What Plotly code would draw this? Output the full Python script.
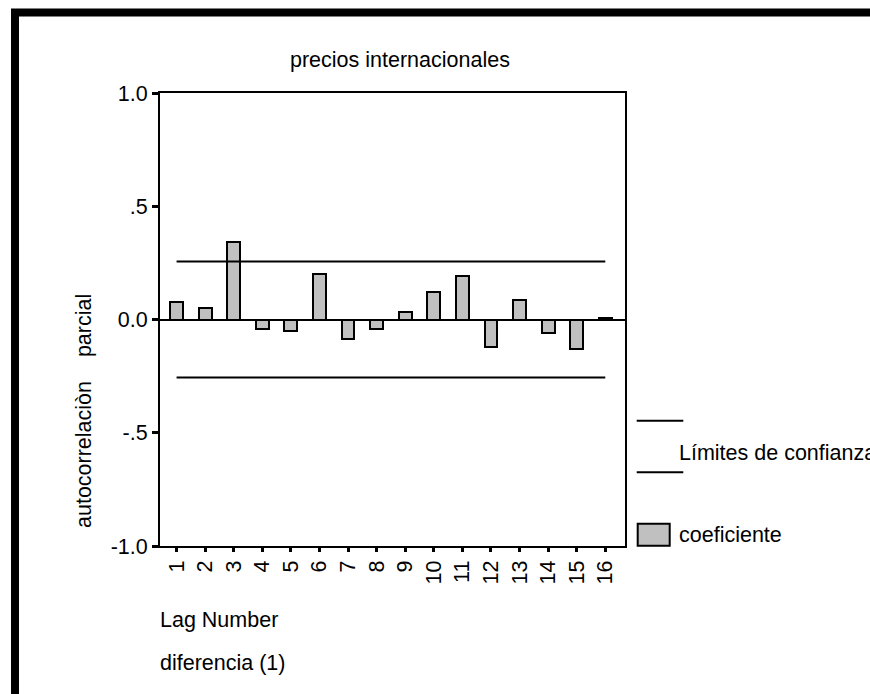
import plotly.graph_objects as go

# ---- data ----
lags = list(range(1, 17))
lag_labels = [str(i) for i in lags]
pacf = [0.078, 0.050, 0.340, -0.043, -0.050, 0.200, -0.086, -0.043,
        0.034, 0.120, 0.192, -0.121, 0.085, -0.060, -0.130, 0.008]
conf_upper = [0.256] * 16
conf_lower = [-0.256] * 16
y_tickvals = [-1.0, -0.5, 0.0, 0.5, 1.0]
y_ticktext = ["-1.0", "-.5", "0.0", ".5", "1.0"]

title_text = "precios internacionales"
ytitle_text = "autocorrelaci\u00f2n\u00a0\u00a0\u00a0\u00a0parcial"
xtitle_text = "Lag Number"
sub_text = "diferencia (1)"
leg_conf = "L\u00edmites de confianza"
leg_coef = "coeficiente"

W, H = 870, 694
ML, MT = 160, 93
MR = W - 625
MB = H - 546
PW, PH = W - ML - MR, H - MT - MB


def px(p):  # p: screen pixel x
    return (p - ML) / PW


def py(p):  # p: screen pixel y
    return (H - MB - p) / PH


FONT = "Liberation Sans, Arial, sans-serif"
FS = 21.5

fig = go.Figure()
fig.add_trace(go.Bar(x=lags, y=pacf, width=0.45,
                     marker=dict(color="#c0c0c0", line=dict(color="black", width=2))))
fig.add_trace(go.Scatter(x=lags, y=conf_upper, mode="lines",
                         line=dict(color="black", width=2)))
fig.add_trace(go.Scatter(x=lags, y=conf_lower, mode="lines",
                         line=dict(color="black", width=2)))

fig.update_layout(
    width=W, height=H,
    margin=dict(l=ML, r=MR, t=MT, b=MB, pad=0),
    paper_bgcolor="white", plot_bgcolor="white",
    showlegend=False,
    font=dict(family=FONT, size=FS, color="black"),
    bargap=0,
)
fig.update_xaxes(range=[0.42, 16.69], tickvals=lags, ticktext=lag_labels,
                 tickangle=-90, ticks="outside", ticklen=4, tickwidth=3,
                 tickcolor="black", showline=True, mirror=True, linecolor="black",
                 linewidth=2, showgrid=False, zeroline=False,
                 tickfont=dict(family=FONT, size=FS, color="black"))
fig.update_yaxes(range=[-1, 1], tickvals=y_tickvals, ticktext=y_ticktext,
                 ticks="outside", ticklen=6, tickwidth=3, tickcolor="black",
                 showline=True, mirror=True, linecolor="black", linewidth=2,
                 showgrid=False, zeroline=True, zerolinecolor="black",
                 zerolinewidth=2,
                 tickfont=dict(family=FONT, size=FS, color="black"))

ann = [
    dict(text=title_text, x=px(400), y=py(60), xanchor="center", yanchor="middle"),
    dict(text=xtitle_text, x=px(158), y=py(620), xanchor="left", yanchor="middle"),
    dict(text=sub_text, x=px(158), y=py(663), xanchor="left", yanchor="middle"),
    dict(text=ytitle_text, x=px(84), y=py(411), xanchor="center", yanchor="middle",
         textangle=-90),
    dict(text=leg_conf, x=px(677), y=py(453), xanchor="left", yanchor="middle"),
    dict(text=leg_coef, x=px(677), y=py(535), xanchor="left", yanchor="middle"),
]
for a in ann:
    fig.add_annotation(xref="paper", yref="paper", showarrow=False,
                       font=dict(family=FONT, size=FS, color="black"), **a)

shapes = [
    dict(type="line", x0=px(636.7), x1=px(683.3), y0=py(420.7), y1=py(420.7),
         line=dict(color="black", width=2)),
    dict(type="line", x0=px(636.7), x1=px(683.3), y0=py(472.3), y1=py(472.3),
         line=dict(color="black", width=2)),
    dict(type="rect", x0=px(637.7), x1=px(669.7), y0=py(523.7), y1=py(545.7),
         fillcolor="#c0c0c0", line=dict(color="black", width=2)),
    dict(type="path",
         path=f"M {px(15)},{py(900)} L {px(15)},{py(12.5)} L {px(1000)},{py(12.5)}",
         line=dict(color="black", width=8)),
]
for s in shapes:
    fig.add_shape(xref="paper", yref="paper", layer="above", **s)

fig.write_html(
    "out.html",
    config={"displayModeBar": False},
    post_script="document.body.style.margin='0';document.body.style.overflow='hidden';",
)
